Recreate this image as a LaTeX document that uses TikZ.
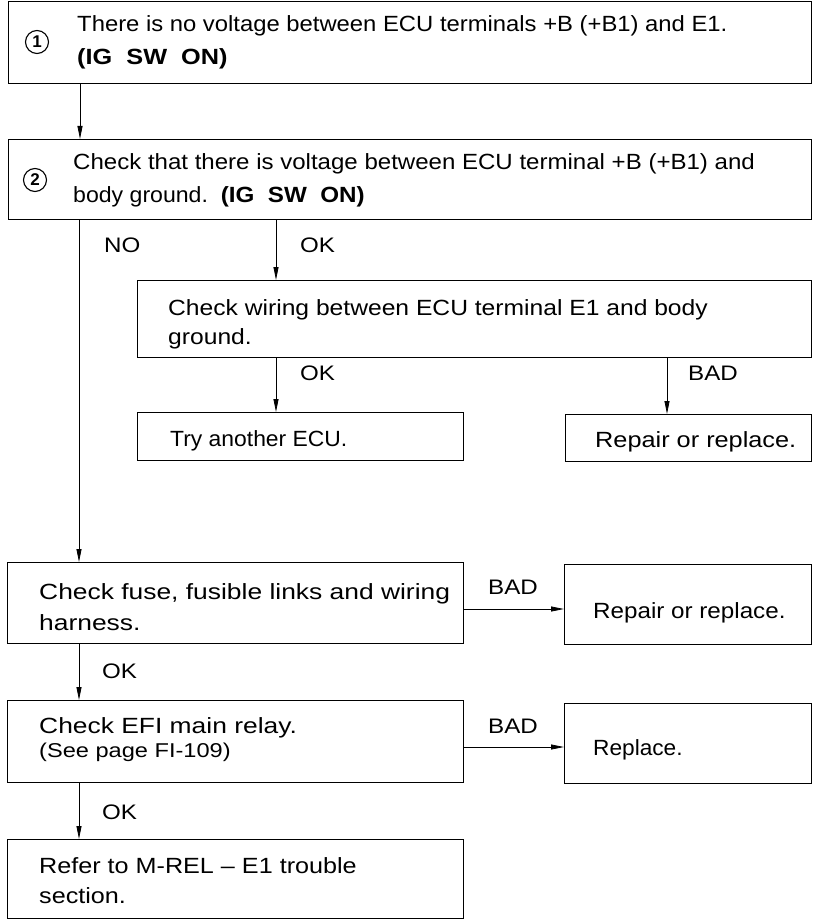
\documentclass[tikz,border=0pt]{standalone}
\usepackage{fontspec}
\setmainfont{Liberation Sans}
\usetikzlibrary{arrows.meta}
\begin{document}
\begin{tikzpicture}[x=1pt,y=-1pt,
  box/.style={draw, line width=1.4pt, inner sep=0pt, anchor=north west},
  conn/.style={line width=0.8pt, -{Triangle[length=13pt,width=5pt]}},
  txt/.style={anchor=base west, inner sep=0pt, font=\fontsize{22}{26}\selectfont\addfontfeatures{FakeStretch=#1}},
  txt/.default=1,
  lbl/.style={anchor=base west, inner sep=0pt, font=\fontsize{21}{25}\selectfont\addfontfeatures{FakeStretch=1.15}},
  num/.style={draw, circle, line width=1.1pt, minimum size=23pt, inner sep=0pt, font=\fontsize{17}{20}\selectfont\bfseries}]
\useasboundingbox (0,0) rectangle (816,920);

% boxes
\node[box, minimum width=803pt, minimum height=82pt] (b1) at (8,1) {};
\node[box, minimum width=803pt, minimum height=80pt] (b2) at (8,139) {};
\node[box, minimum width=674pt, minimum height=77pt] (b3) at (137,280) {};
\node[box, minimum width=326pt, minimum height=48pt] (b4) at (137,412) {};
\node[box, minimum width=246pt, minimum height=47pt] (b5) at (565,414) {};
\node[box, minimum width=456pt, minimum height=81pt] (b6) at (7,562) {};
\node[box, minimum width=247pt, minimum height=80pt] (b7) at (564,564) {};
\node[box, minimum width=456pt, minimum height=82pt] (b8) at (7,700) {};
\node[box, minimum width=247pt, minimum height=80pt] (b9) at (564,703) {};
\node[box, minimum width=456pt, minimum height=79pt] (b10) at (7,839) {};

% texts
\node[num] (n1) at (37,42) {1};
\node[txt=1.083] (t1a) at (77,32) {There is no voltage between ECU terminals +B (+B1) and E1.};
\node[txt] (t1b) at (77,65) {\bfseries\addfontfeatures{FakeStretch=1.15}(IG\ \ SW\ \ ON)};
\node[num] (n2) at (35,180) {2};
\node[txt=1.093] (t2a) at (73,170) {Check that there is voltage between ECU terminal +B (+B1) and};
\node[txt=1.05] (t2b) at (73,202) {body ground.\ \ {\bfseries\addfontfeatures{FakeStretch=1.1}(IG\ \ SW\ \ ON)}};
\node[txt=1.12] (t3a) at (168,315) {Check wiring between ECU terminal E1 and body};
\node[txt=1.12] (t3b) at (168,344) {ground.};
\node[txt=1.04] (t4) at (170,446) {Try another ECU.};
\node[txt=1.15] (t5) at (595,447) {Repair or replace.};
\node[txt=1.2] (t6a) at (39,599) {Check fuse, fusible links and wiring};
\node[txt=1.2] (t6b) at (39,630) {harness.};
\node[txt=1.1] (t7) at (593,618) {Repair or replace.};
\node[txt=1.2] (t8a) at (39,733) {Check EFI main relay.};
\node[anchor=base west, inner sep=0pt, font=\fontsize{20}{24}\selectfont\addfontfeatures{FakeStretch=1.18}] (t8b) at (39,757) {(See page FI-109)};
\node[txt=1.03] (t9) at (593,755) {Replace.};
\node[txt=1.144] (t10a) at (39,873) {Refer to M-REL -- E1 trouble};
\node[txt=1.144] (t10b) at (39,903) {section.};

% labels
\node[lbl] (lno) at (104,252) {NO};
\node[lbl] (lok1) at (300,252) {OK};
\node[lbl] (lok2) at (300,380) {OK};
\node[lbl] (lbad1) at (688,380) {BAD};
\node[lbl] (lbad2) at (488,594) {BAD};
\node[lbl] (lok3) at (102,678) {OK};
\node[lbl] (lbad3) at (488,733) {BAD};
\node[lbl] (lok4) at (102,819) {OK};

% connectors
\draw[conn] (b1.south west -| 80,0) -- (b2.north west -| 80,0);
\draw[conn] (b2.south west -| 79,0) -- (b6.north west -| 79,0);
\draw[conn] (b2.south west -| 276,0) -- (b3.north west -| 276,0);
\draw[conn] (b3.south west -| 276,0) -- (b4.north west -| 276,0);
\draw[conn] (b3.south west -| 667,0) -- (b5.north west -| 667,0);
\draw[conn] (b6.east |- 0,609) -- (b7.west |- 0,609);
\draw[conn] (b8.east |- 0,747) -- (b9.west |- 0,747);
\draw[conn] (b6.south west -| 79,0) -- (b8.north west -| 79,0);
\draw[conn] (b8.south west -| 79,0) -- (b10.north west -| 79,0);
\end{tikzpicture}
\end{document}
